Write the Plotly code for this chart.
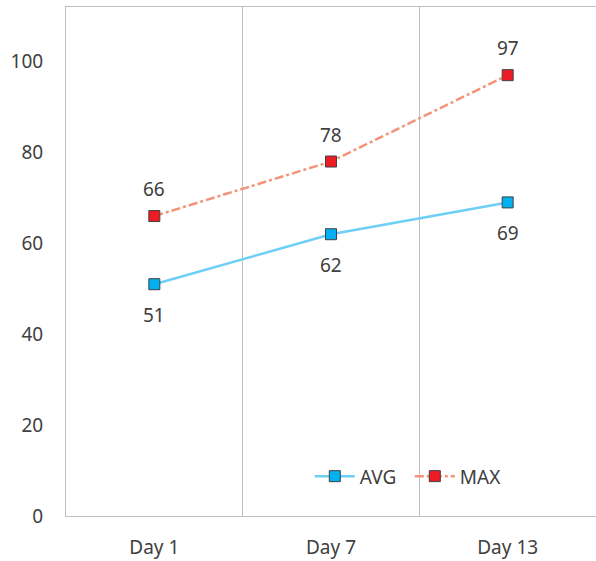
import plotly.graph_objects as go

days = ["Day 1", "Day 7", "Day 13"]
avg_values = [51, 62, 69]
max_values = [66, 78, 97]
y_ticks = [0, 20, 40, 60, 80, 100]

font_family = "Noto Sans, Open Sans, sans-serif"
text_color = "#404040"
grid_color = "#bfbfbf"
label_size = 19

fig = go.Figure()

fig.add_trace(go.Scatter(
    x=days, y=avg_values, name="AVG",
    mode="lines+markers",
    line=dict(color="#6dcff6", width=2.5),
    marker=dict(symbol="square", size=11, color="#00b0f0",
                line=dict(color="#404040", width=1)),
))

fig.add_trace(go.Scatter(
    x=days, y=max_values, name="MAX",
    mode="lines+markers",
    line=dict(color="#f4937a", width=2.5, dash="dashdot"),
    marker=dict(symbol="square", size=11, color="#ed1c24",
                line=dict(color="#404040", width=1)),
))

# value labels: AVG below its points, MAX above
for d, v in zip(days, avg_values):
    fig.add_annotation(x=d, y=v, text=str(v), showarrow=False, yshift=-31,
                       font=dict(size=label_size, color=text_color, family=font_family))
for d, v in zip(days, max_values):
    fig.add_annotation(x=d, y=v, text=str(v), showarrow=False, yshift=27,
                       font=dict(size=label_size, color=text_color, family=font_family))

fig.update_layout(
    width=596, height=561,
    margin=dict(l=66, r=0, t=7, b=45),
    paper_bgcolor="white", plot_bgcolor="white",
    font=dict(family=font_family, size=label_size, color=text_color),
    showlegend=True,
    legend=dict(orientation="h", x=0.46, y=0.078, xanchor="left", yanchor="middle",
                bgcolor="rgba(0,0,0,0)", font=dict(size=label_size, color=text_color),
                itemwidth=40, entrywidth=45, entrywidthmode="pixels", tracegroupgap=0),
    xaxis=dict(
        type="category", tickson="boundaries", range=[-0.5, 2.5],
        showgrid=True, gridcolor=grid_color, gridwidth=1,
        showline=True, linecolor=grid_color, linewidth=1, mirror=True,
        ticks="", ticklabelstandoff=14,
        tickfont=dict(size=label_size, color=text_color),
    ),
    yaxis=dict(
        range=[0, 112], tickvals=y_ticks,
        showgrid=False, zeroline=False,
        showline=True, linecolor=grid_color, linewidth=1,
        ticks="", ticklabelstandoff=18,
        tickfont=dict(size=label_size, color=text_color),
    ),
)

fig.write_html("out.html")
